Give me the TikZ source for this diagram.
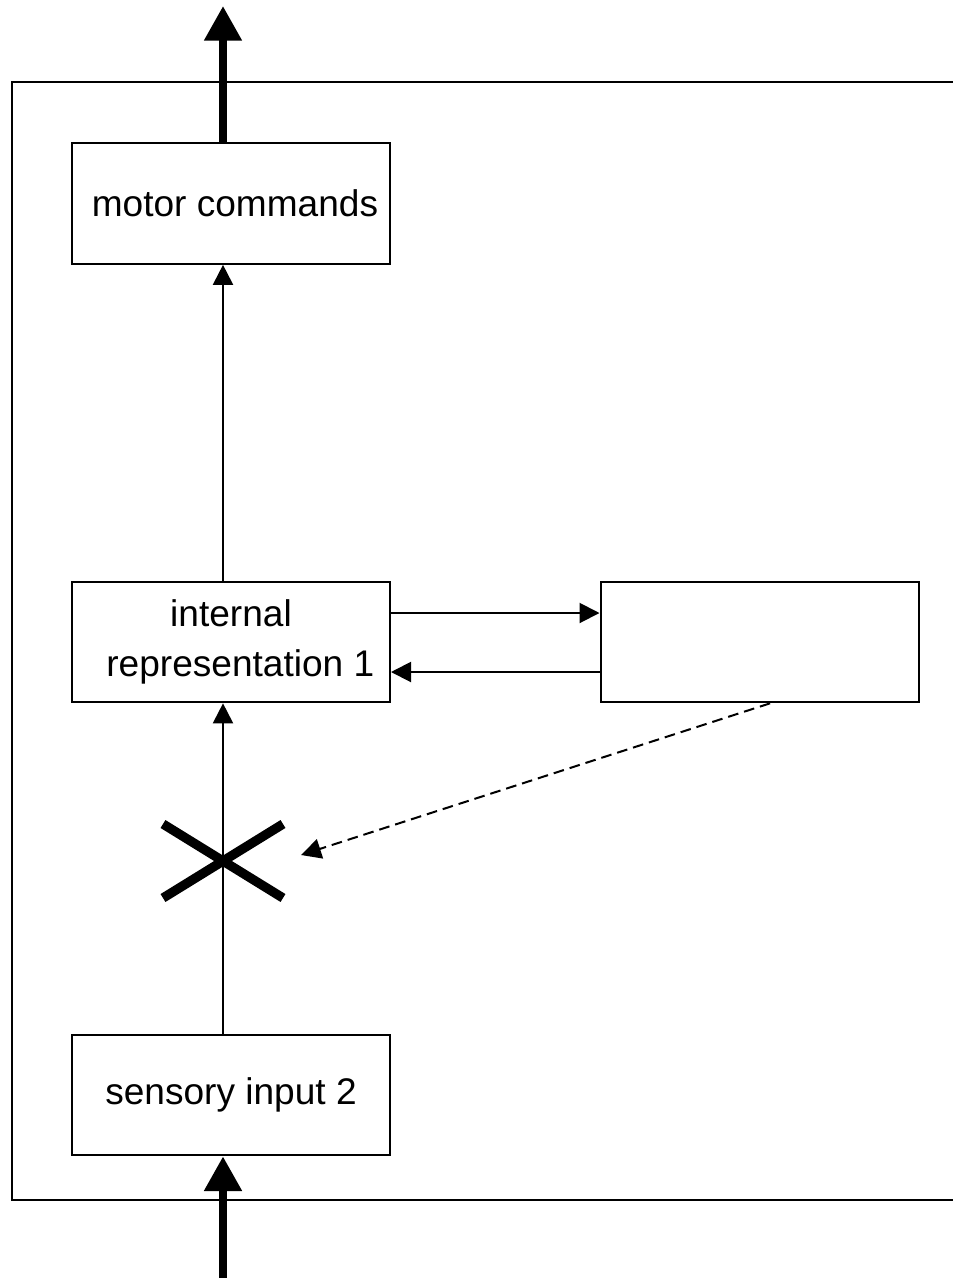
\documentclass[tikz,border=0pt]{standalone}
\usepackage{fontspec}
\setmainfont{Liberation Sans}
\usetikzlibrary{arrows.meta}
\begin{document}
\begin{tikzpicture}[x=0.75pt,y=-0.75pt,
  box/.style={draw,line width=1.5pt,rectangle,inner sep=0pt,
    minimum width=238.5pt,minimum height=90.5pt,
    font=\fontsize{27.8}{37.5}\selectfont,align=center},
  link/.style={line width=1.5pt,-{Triangle[length=15pt,width=15pt]}},
  bigarrow/.style={line width=6pt,-{Triangle[length=26pt,width=27pt]}},
  frame/.style={line width=1.4pt},
  cut/.style={line width=7pt}]
  \useasboundingbox (0,0) rectangle (953,1278);

  % enclosing frame (open to the right)
  \draw[frame] (953,82) -- (12,82) -- (12,1200) -- (953,1200);

  % boxes
  \node[box] (motor) at (231,203.5) {\hspace*{6pt}motor commands};
  \node[box] (int) at (231,642) {internal\\\hspace*{14pt}representation 1};
  \node[box] (rbox) at (759.5,642) {};
  \node[box] (sens) at (231,1095) {sensory input 2};

  % thick input/output arrows
  \coordinate (out) at (223,6);
  \coordinate (in) at (223,1278);
  \draw[bigarrow] ([xshift=-6pt]motor.north) -- (out);
  \draw[bigarrow] (in) -- ([xshift=-6pt]sens.south);

  % vertical links
  \draw[link] ([xshift=-6pt]int.north) -- ([xshift=-6pt]motor.south);
  \draw[link] ([xshift=-6pt]sens.north) -- ([xshift=-6pt]int.south);

  % links to and from the side box
  \draw[link] ([yshift=21.75pt]int.east) -- ([yshift=21.75pt]int.east -| rbox.west);
  \draw[link] ([yshift=-22.5pt]rbox.west) -- ([yshift=-22.5pt]rbox.west -| int.east);

  % the cut on the sensory pathway
  \coordinate (x) at (223,861);
  \draw[cut] (163,824) -- (x) -- (283,898);
  \draw[cut] (163,898) -- (x) -- (283,824);

  % dashed influence on the cut
  \coordinate (xt) at (301,855);
  \draw[link,dash pattern=on 8pt off 4.5pt] ([xshift=7.9pt]rbox.south) -- (xt);
\end{tikzpicture}
\end{document}
